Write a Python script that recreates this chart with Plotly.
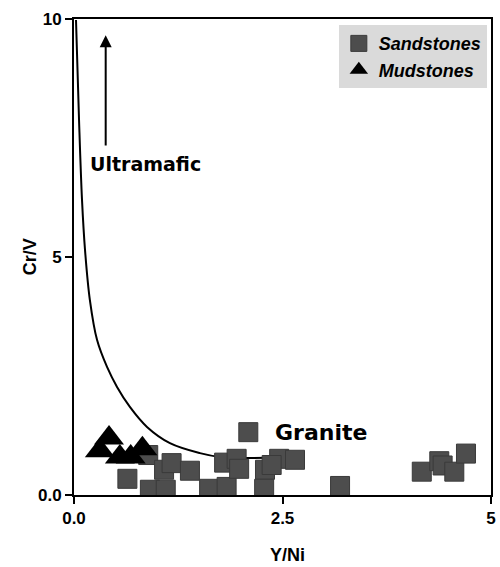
import plotly.graph_objects as go

# Sandstone samples (Y/Ni, Cr/V)
sand_yni = [0.64, 0.91, 1.10, 0.89, 1.08, 1.17, 1.39, 1.62, 1.83, 1.80, 1.95, 1.98,
            2.09, 2.29, 2.28, 2.46, 2.37, 2.65, 3.19, 4.17, 4.38, 4.42, 4.56, 4.70]
sand_crv = [0.34, 0.11, 0.11, 0.84, 0.53, 0.67, 0.51, 0.13, 0.17, 0.68, 0.76, 0.55,
            1.32, 0.53, 0.13, 0.76, 0.63, 0.74, 0.19, 0.49, 0.71, 0.62, 0.49, 0.87]

# Mudstone samples (Y/Ni, Cr/V)
mud_yni = [0.42, 0.31, 0.55, 0.68, 0.82]
mud_crv = [1.20, 0.93, 0.80, 0.80, 0.97]

# Ultramafic-granite boundary curve
curve_yni = [0.024, 0.06, 0.096, 0.132, 0.19, 0.276, 0.396, 0.516, 0.67, 0.875, 1.15, 1.51, 1.75, 2.31]
curve_crv = [9.98, 7.9, 6.2, 5.15, 4.10, 3.26, 2.69, 2.27, 1.85, 1.43, 1.09, 0.88, 0.80, 0.78]

x_ticks = [0, 2.5, 5]
x_ticktext = ["0.0", "2.5", "5"]
y_ticks = [0, 5, 10]
y_ticktext = ["0.0", "5", "10"]

FONT = "Liberation Sans, Arial, sans-serif"

fig = go.Figure()

fig.add_trace(go.Scatter(
    x=curve_yni, y=curve_crv, mode="lines",
    line=dict(color="black", width=2, shape="spline", smoothing=1.0),
    showlegend=False, hoverinfo="skip",
))

fig.add_trace(go.Scatter(
    x=sand_yni, y=sand_crv, mode="markers", name="Sandstones",
    marker=dict(symbol="square", size=19, color="#4d4d4d",
                line=dict(color="#3a3a3a", width=1)),
))

fig.add_trace(go.Scatter(
    x=mud_yni, y=mud_crv, mode="markers", name="Mudstones",
    marker=dict(symbol="triangle-up", size=26, color="black",
                line=dict(color="black", width=0)),
))

# Ultramafic arrow and field labels
fig.add_annotation(
    x=0.38, y=9.66, ax=0.38, ay=7.31, xref="x", yref="y", axref="x", ayref="y",
    text="", showarrow=True, arrowhead=2, arrowsize=1.2, arrowwidth=2, arrowcolor="black",
)
fig.add_annotation(
    x=0.17, y=6.95, xref="x", yref="y", text="Ultramafic", showarrow=False,
    xanchor="left", yanchor="middle",
    font=dict(family="DejaVu Sans", size=19, color="black", weight="bold"),
)
fig.add_annotation(
    x=2.39, y=1.32, xref="x", yref="y", text="Granite", showarrow=False,
    xanchor="left", yanchor="middle",
    font=dict(family="DejaVu Sans", size=22, color="black", weight="bold"),
)

# Axis titles
title_font = dict(family=FONT, size=18, color="black", weight="bold")
fig.add_annotation(
    x=0.513, y=-0.127, xref="x domain", yref="y domain", text="Y/Ni", showarrow=False,
    xanchor="center", yanchor="middle", font=title_font,
)
fig.add_annotation(
    x=-0.105, y=0.5, xref="x domain", yref="y domain", text="Cr/V", showarrow=False,
    xanchor="center", yanchor="middle", textangle=-90, font=title_font,
)

axis_common = dict(
    showline=True, linecolor="black", linewidth=2, mirror=True,
    ticks="outside", ticklen=7, tickwidth=2, tickcolor="black",
    showgrid=False, zeroline=False, automargin=False,
    tickfont=dict(family=FONT, size=17, color="black", weight="bold"),
)

fig.update_xaxes(range=[0, 5], tickvals=x_ticks, ticktext=x_ticktext, **axis_common)
fig.update_yaxes(range=[0, 10], tickvals=y_ticks, ticktext=y_ticktext, **axis_common)

fig.update_layout(
    width=500, height=567,
    margin=dict(l=74, r=9, t=19, b=72),
    paper_bgcolor="white", plot_bgcolor="white",
    legend=dict(
        x=0.99, y=0.987, xanchor="right", yanchor="top",
        bgcolor="#dadada", borderwidth=0,
        font=dict(family=FONT, size=18, color="black", weight="bold", style="italic"),
        itemwidth=30,
    ),
)

fig.write_html("out.html")
